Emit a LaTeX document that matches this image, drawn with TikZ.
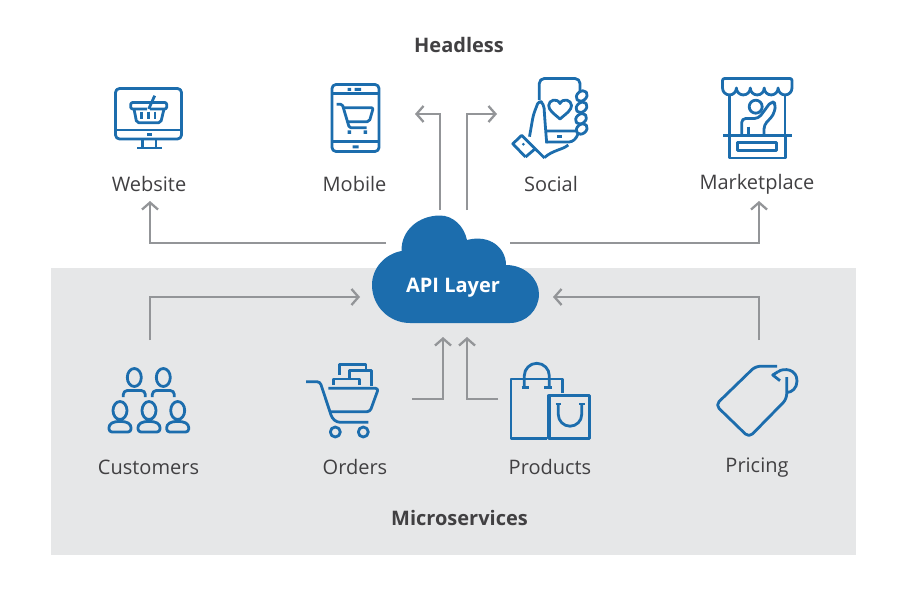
\documentclass[tikz,border=0pt]{standalone}
\usepackage{fontspec}
\setmainfont{Open Sans}
\usetikzlibrary{arrows.meta}
\definecolor{iconblue}{HTML}{1C6DAD}
\definecolor{panelgray}{HTML}{E6E7E8}
\definecolor{flowgray}{HTML}{939598}
\definecolor{labelgray}{HTML}{414042}

\begin{document}
\begin{tikzpicture}[
x=1pt,y=-1pt,
icon/.style={draw=iconblue,line width=2.8pt,line join=round},
mylabel/.style={font=\fontsize{20}{24}\selectfont,text=labelgray,inner sep=0pt},
mytitle/.style={font=\fontsize{20}{24}\selectfont\bfseries,text=labelgray,inner sep=0pt},
flow/.style={draw=flowgray,line width=2.3pt,-{Straight Barb[length=7pt,width=16pt,line width=2.3pt]}}
]
\useasboundingbox (0,0) rectangle (920,604);
\fill[panelgray] (51,268) rectangle (856,555);

% labels
\node[mytitle] (headless) at (459,45.5) {Headless};
\node[mytitle] (microservices) at (459.5,518) {Microservices};
\foreach \Name/\Text/\X/\Y in {
  website/Website/149/184,mobile/Mobile/354.5/184,social/Social/551/184,marketplace/Marketplace/757/182,
  customers/Customers/148.5/467,orders/Orders/355/467,products/Products/550/467,pricing/Pricing/757/465}
  \node[mylabel,anchor=base] (\Name) at (\X,\Y+7.5) {\Text};

% cloud
\fill[iconblue] (410,323) .. controls (389,323) and (372,306) .. (372,285)
  .. controls (372,268) and (385,254) .. (401.5,251)
  .. controls (401,230) and (419,215.5) .. (440,215.5)
  .. controls (453,215.5) and (464,226) .. (467,240)
  .. controls (490,234) and (506,248) .. (506,265)
  .. controls (525,265) and (539,279) .. (539,294)
  .. controls (539,310) and (526,323) .. (510,323) -- cycle;
\node[mytitle,text=white] (api) at (453,287.5) {API Layer};

% free ends of the connectors
\coordinate (a1) at (386,243);
\coordinate (a2) at (150,201);
\coordinate (b1) at (510,243);
\coordinate (b2) at (759,201);
\coordinate (c1) at (440,210);
\coordinate (c2) at (415,114);
\coordinate (d1) at (467,210);
\coordinate (d2) at (497,114);
\coordinate (e1) at (150,340);
\coordinate (e2) at (360,297);
\coordinate (f1) at (759,340);
\coordinate (f2) at (553,297);
\coordinate (g1) at (412,399);
\coordinate (g2) at (443,337);
\coordinate (h1) at (498,399);
\coordinate (h2) at (467,337);
\path[flow] (a1) -| (a2);
\path[flow] (b1) -| (b2);
\path[flow] (c1) |- (c2);
\path[flow] (d1) |- (d2);
\path[flow] (e1) |- (e2);
\path[flow] (f1) |- (f2);
\path[flow] (g1) -| (g2);
\path[flow] (h1) -| (h2);

% website
\draw[icon,rounded corners=4pt] (115.5,88.5) rectangle (181.5,139);
\draw[icon] (115.5,130) -- (181.5,130);
\fill[iconblue] (147,133) rectangle (151.5,136.5);
\draw[icon] (142.3,139) -- (142.3,148) (156,139) -- (156,148) (137.3,148) -- (161.7,148);
\draw[icon,rounded corners=2pt] (147,109) -- (130.7,109) -- (130.7,102.5) -- (166.7,102.5) -- (166.7,109) -- (150,109);
\draw[icon,rounded corners=2pt] (134,109) -- (136.7,122.7) -- (160.7,122.7) -- (164,109);
\draw[icon] (141.7,111.7) -- (141.7,119.3) (148.3,111.7) -- (148.3,119.3) (155,111.7) -- (155,119.3);
\draw[icon] (148.7,109) -- (154.7,95.7);

% mobile
\draw[icon,rounded corners=4pt] (332,84.5) rectangle (379,151.5);
\draw[icon] (332,93.3) -- (379,93.3) (332,141.7) -- (379,141.7);
\fill[iconblue] (347.5,87.8) rectangle (351,91) (354.5,87.8) rectangle (361,91) (352.5,145.5) rectangle (358.5,148.5);
\draw[icon,rounded corners=1.5pt] (336.7,104.3) -- (342.3,104.3) -- (349.3,127.7) -- (366.7,127.7);
\draw[icon,rounded corners=2pt] (343,107.7) -- (373.3,107.7) -- (369.3,121.7) -- (346.5,121.7);
\fill[iconblue] (347.5,130.5) rectangle (351,134) (363.5,130.5) rectangle (367,134);

% social
\draw[icon,rounded corners=5pt] (539.3,100) -- (539.3,78.5) -- (580,78.5) -- (580,92);
\draw[icon] (560,119) .. controls (553,113) and (548.7,110) .. (548.7,105.5)
  .. controls (548.7,100) and (557,97.5) .. (560,103.5)
  .. controls (563,97.5) and (571.5,100) .. (571.5,105.5)
  .. controls (571.5,110) and (567,113) .. (560,119) -- cycle;
\foreach \X/\Y in {581.7/96,581.5/107.3,581/118.8,581.7/129}
  \draw[icon,rotate around={40:(\X,\Y)}] (\X,\Y) ellipse (6pt and 4.6pt);
\draw[icon,rounded corners=3pt] (546.7,131) -- (576,131) (546.7,142) -- (572,142) -- (577,137) -- (578,134);
\fill[iconblue] (557,135.5) rectangle (562,138.5);
\draw[icon,rounded corners=4pt] (529.5,136.7) -- (533.3,115) -- (539,100) -- (543.8,104) -- (545,121.7) -- (546.7,143.3);
\draw[icon] (568.3,145) .. controls (562,150) and (553,150) .. (544.5,157.5);
\draw[icon] (525.5,157) -- (512.8,143.8) -- (521.7,135.3) -- (544.5,158);
\draw[icon] (525.5,157) -- (535.5,148.5);
\fill[iconblue] (523.3,144.3) circle (1.5pt);

% marketplace
\draw[icon,rounded corners=2pt] (722.5,88) -- (722.5,78.5) -- (792,78.5) -- (792,88);
\draw[icon] (722.5,88) \foreach \X in {736.4,750.3,764.2,778.1,792} { arc[start angle=180,end angle=360,radius=6.95pt] };
\draw[icon] (729.3,94) -- (729.3,135) (785,94) -- (785,135);
\draw[icon,line width=3.2pt] (723.3,135.3) -- (791.7,135.3);
\draw[icon] (729.3,135.3) -- (729.3,158) -- (785.7,158) -- (785.7,135.3);
\draw[icon] (737.7,142.3) rectangle (776.7,150.7);
\draw[icon] (755.7,106.7) circle (6.5pt);
\draw[icon,rounded corners=4pt] (741.7,135) -- (741.7,118.5) -- (758.5,118.5) -- (771.5,101) -- (776,104) -- (773.5,115) -- (764,125) -- (764,134);
\draw[icon] (748.3,126.7) -- (748.3,135);

% customers
\foreach \X in {134.3,163.3} {
  \draw[icon] (\X,377.5) ellipse (7pt and 9pt);
  \draw[icon,rounded corners=4pt] (\X-11,397) -- (\X-11,390.5) -- (\X+11,390.5) -- (\X+11,397);
}
\foreach \X in {120,149,177.7} {
  \draw[icon] (\X,410.5) ellipse (7pt and 9pt);
  \draw[icon,rounded corners=3pt] (\X-11,432) -- (\X-11,424.5) -- (\X-5,421.5) -- (\X+5,421.5) -- (\X+11,424.5) -- (\X+11,432) -- cycle;
}

% orders
\draw[icon,rounded corners=3pt] (306,381.7) -- (320,381.7) -- (332,418) -- (337,422.3) -- (368.3,422.3);
\draw[icon,rounded corners=3pt] (328.3,388.3) -- (378.5,388.3) -- (370,411.7) -- (331,411.7);
\draw[icon] (335.3,432) circle (5pt) (363.3,432) circle (5pt);
\draw[icon] (333.3,385) -- (333.3,379) -- (359.3,379) -- (359.3,385);
\draw[icon] (339.3,375) -- (339.3,364.5) -- (366,364.5) -- (366,370.7);
\draw[icon] (349.3,378) -- (349.3,370.7) -- (371.7,370.7) -- (371.7,386);

% products
\draw[icon] (546.7,438.3) -- (511,438.3) -- (511,379) -- (562.3,379) -- (562.3,393.3);
\draw[icon] (524.3,387.7) -- (524.3,375.8) arc[start angle=180,end angle=0,radius=12.5pt] -- (549.3,387.7);
\draw[icon] (521.5,387.7) -- (529,387.7) (544.3,387.7) -- (551.5,387.7);
\draw[icon,line width=3.2pt] (549,395.7) rectangle (589.7,438.3);
\draw[icon] (558.3,404) -- (558.3,414.5) arc[start angle=180,end angle=360,radius=11.7pt] -- (581.7,404);
\draw[icon] (555.5,404) -- (561,404) (579,404) -- (584.5,404);

% pricing
\draw[icon,rounded corners=5pt] (777,366.2) -- (755.5,366.2) -- (715.5,405) -- (749,437.5) -- (786.7,399) -- (786.7,377);
\draw[icon] (778,371.7) .. controls (784,367.5) and (797,369) .. (797,381)
  .. controls (797,388) and (792,392.5) .. (786.7,392.5);
\draw[icon] (778,371.7) -- (772.7,375) -- (780,380.7);
\end{tikzpicture}
\end{document}
